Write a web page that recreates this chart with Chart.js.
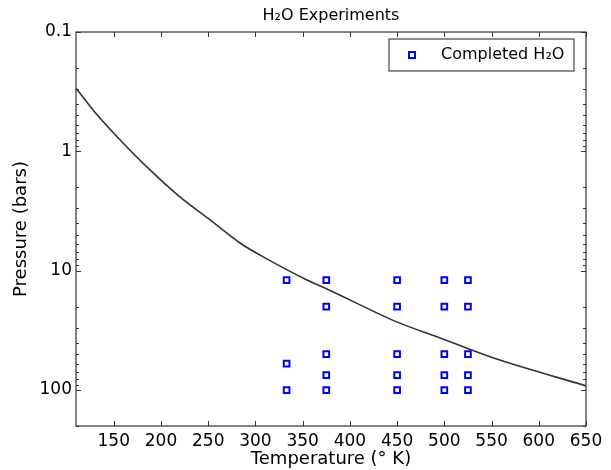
<!DOCTYPE html>
<html>
<head>
<meta charset="utf-8">
<script src="https://cdn.jsdelivr.net/npm/chart.js@4.4.0/dist/chart.umd.min.js"></script>
<style>
  body { margin: 0; background: #fff; }
  #wrap { width: 611px; height: 470px; }
</style>
</head>
<body>
<div id="wrap"><canvas id="h2oChart"></canvas></div>
<script>
// boundary curve (temperature K, pressure bars)
const curveT = [110, 130, 155, 185, 220, 250, 284, 314, 354, 374, 449, 499, 524, 558, 650];
const curveP = [0.296, 0.47, 0.776, 1.35, 2.41, 3.65, 5.89, 8.12, 11.9, 14.0, 26.7, 37.5, 44.6, 55.8, 92.2];

// completed experiments
const expT = [333, 333, 333,
              375, 375, 375, 375, 375,
              450, 450, 450, 450, 450,
              500, 500, 500, 500, 500,
              525, 525, 525, 525, 525];
const expP = [12, 60, 100,
              12, 20, 50, 75, 100,
              12, 20, 50, 75, 100,
              12, 20, 50, 75, 100,
              12, 20, 50, 75, 100];

const xTicks = [150, 200, 250, 300, 350, 400, 450, 500, 550, 600, 650];
const yTicks = [0.1, 1, 10, 100];

const FONT = "'DejaVu Sans', sans-serif";

// matplotlib-like frame: title, box, inward ticks on all four sides, legend box
const frameTicks = {
  id: "frameTicks",
  afterDraw(chart) {
    const { ctx, chartArea: a, scales } = chart;
    const xs = scales.x, ys = scales.y;
    ctx.save();

    // title centred over the plot area
    ctx.fillStyle = "#000";
    ctx.font = "16px " + FONT;
    ctx.textAlign = "center";
    ctx.textBaseline = "alphabetic";
    ctx.fillText("H\u2082O Experiments", (a.left + a.right) / 2, 20);

    ctx.strokeStyle = "#333";
    ctx.lineWidth = 1.2;
    ctx.strokeRect(a.left, a.top, a.right - a.left, a.bottom - a.top);

    ctx.lineWidth = 1;
    ctx.beginPath();
    xTicks.forEach(v => {
      const px = Math.round(xs.getPixelForValue(v)) + 0.5;
      ctx.moveTo(px, a.bottom); ctx.lineTo(px, a.bottom - 5);
      ctx.moveTo(px, a.top); ctx.lineTo(px, a.top + 5);
    });
    yTicks.forEach(v => {
      const py = Math.round(ys.getPixelForValue(v)) + 0.5;
      ctx.moveTo(a.left, py); ctx.lineTo(a.left + 5, py);
      ctx.moveTo(a.right, py); ctx.lineTo(a.right - 5, py);
    });
    // minor log ticks
    [0.1, 1, 10, 100].forEach(dec => {
      for (let m = 2; m <= 9; m++) {
        const v = dec * m;
        if (v > ys.max) break;
        const py = Math.round(ys.getPixelForValue(v)) + 0.5;
        ctx.moveTo(a.left, py); ctx.lineTo(a.left + 3, py);
        ctx.moveTo(a.right, py); ctx.lineTo(a.right - 3, py);
      }
    });
    ctx.stroke();

    // legend
    const lx = 389, ly = 39, lw = 185, lh = 32;
    ctx.fillStyle = "#fff";
    ctx.fillRect(lx, ly, lw, lh);
    ctx.strokeStyle = "#444";
    ctx.lineWidth = 1.2;
    ctx.strokeRect(lx, ly, lw, lh);
    ctx.strokeStyle = "#0000ff";
    ctx.lineWidth = 2;
    ctx.strokeRect(409, 52, 6, 6);
    ctx.fillStyle = "#000";
    ctx.font = "16px " + FONT;
    ctx.textAlign = "left";
    ctx.textBaseline = "middle";
    ctx.fillText("Completed H\u2082O", 441, 55);
    ctx.restore();
  }
};

const ctx = document.getElementById("h2oChart").getContext("2d");

new Chart(ctx, {
  type: "scatter",
  data: {
    datasets: [
      {
        label: "boundary",
        data: curveT.map((t, i) => ({ x: t, y: curveP[i] })),
        showLine: true,
        borderColor: "#333333",
        borderWidth: 1.6,
        pointRadius: 0,
        cubicInterpolationMode: "monotone"
      },
      {
        label: "Completed H\u2082O",
        data: expT.map((t, i) => ({ x: t, y: expP[i] })),
        pointStyle: "rect",
        pointRadius: 4,
        borderWidth: 2,
        borderColor: "#0000ff",
        backgroundColor: "#ffffff"
      }
    ]
  },
  plugins: [frameTicks],
  options: {
    responsive: true,
    maintainAspectRatio: false,
    animation: false,
    layout: { padding: { left: 0, right: 25, top: 32, bottom: 0 } },
    plugins: {
      legend: { display: false },
      tooltip: { enabled: false },
      title: { display: false }
    },
    scales: {
      x: {
        type: "linear",
        min: 110,
        max: 650,
        afterBuildTicks: (s) => { s.ticks = xTicks.map(v => ({ value: v })); },
        afterFit: (s) => { s.height = 44; },
        grid: { display: false, drawTicks: false },
        border: { display: false },
        ticks: {
          color: "#000",
          font: { family: FONT, size: 17 },
          padding: 5,
          maxRotation: 0,
          autoSkip: false
        },
        title: {
          display: true,
          text: "Temperature (\u00b0 K)",
          color: "#000",
          font: { family: FONT, size: 18 },
          padding: { top: 0, bottom: 0 }
        }
      },
      y: {
        type: "logarithmic",
        reverse: true,
        min: 0.1,
        max: 200,
        afterBuildTicks: (s) => { s.ticks = yTicks.map(v => ({ value: v })); },
        afterFit: (s) => { s.width = 76; },
        grid: { display: false, drawTicks: false },
        border: { display: false },
        ticks: {
          color: "#000",
          font: { family: FONT, size: 17 },
          padding: 4,
          autoSkip: false,
          callback: (v) => String(v)
        },
        title: {
          display: true,
          text: "Pressure (bars)",
          color: "#000",
          font: { family: FONT, size: 18 },
          padding: { top: 11, bottom: 0 }
        }
      }
    }
  }
});
</script>
</body>
</html>
